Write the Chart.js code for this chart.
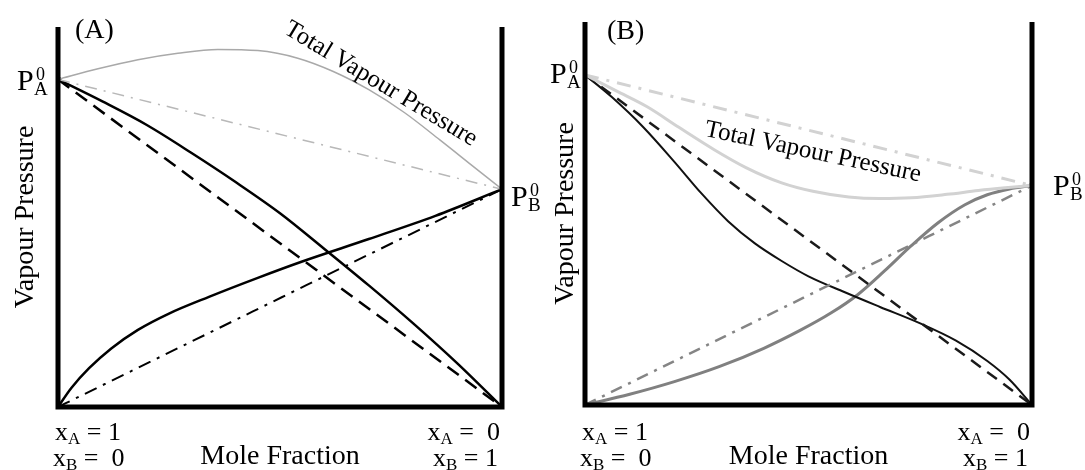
<!DOCTYPE html>
<html lang="en">
<head>
<meta charset="UTF-8" />
<title>Vapour Pressure vs Mole Fraction</title>
<script src="https://cdn.jsdelivr.net/npm/chart.js"></script>
<style>
  body { margin: 0; background: #fff; }
  .panel { position: absolute; top: 0; }
</style>
</head>
<body>
<canvas id="chartA" class="panel" style="left:0" width="540" height="470"></canvas>
<canvas id="chartB" class="panel" style="left:540px" width="545" height="470"></canvas>
<script>
// mole fraction of B along the x axis (0 = pure A, 1 = pure B), pressures in % of axis height
const idealX = [0, 1];
const idealTotal = [86.2, 57.3];
const idealPA = [86.2, 0];
const idealPB = [0, 57.3];

// (A) positive deviation
const totalAX = [0, 0.09, 0.18, 0.27, 0.36, 0.45, 0.54, 0.62, 0.70, 0.78, 0.86, 0.93, 1];
const totalAY = [86.2, 89.0, 91.4, 93.1, 94.1, 93.8, 91.8, 88.3, 83.5, 77.5, 70.3, 63.8, 57.3];
const pARealAX = [0, 0.1, 0.2, 0.3, 0.4, 0.5, 0.6, 0.7, 0.8, 0.9, 1];
const pARealAY = [86.2, 80.4, 74.2, 66.9, 59.2, 51.0, 41.6, 32.0, 22.0, 11.4, 0];
const pBRealAX = [0, 0.03, 0.07, 0.12, 0.18, 0.25, 0.34, 0.45, 0.55, 0.7, 0.85, 1];
const pBRealAY = [0, 5.0, 10.2, 15.4, 20.3, 24.6, 29.0, 34.0, 38.3, 44.2, 50.3, 57.3];

// (B) negative deviation
const totalBX = [0, 0.07, 0.14, 0.21, 0.29, 0.36, 0.44, 0.51, 0.59, 0.66, 0.73, 0.81, 0.88, 0.94, 1];
const totalBY = [86.2, 82.0, 77.8, 72.5, 66.6, 62.0, 58.0, 55.8, 54.3, 53.9, 54.1, 55.0, 56.0, 56.7, 57.3];
const pARealBX = [0, 0.06, 0.13, 0.2, 0.26, 0.32, 0.38, 0.44, 0.5, 0.58, 0.66, 0.75, 0.83, 0.9, 0.95, 1];
const pARealBY = [86.2, 80.4, 72.6, 63.5, 55.3, 48.0, 42.2, 37.6, 33.6, 29.5, 25.6, 21.3, 16.8, 11.5, 6.6, 0];
const pBRealBX = [0, 0.1, 0.2, 0.3, 0.4, 0.48, 0.55, 0.61, 0.67, 0.73, 0.79, 0.85, 0.9, 0.95, 1];
const pBRealBY = [0, 2.8, 6.1, 10.0, 14.8, 19.4, 24.0, 28.8, 35.0, 41.6, 47.6, 52.3, 54.9, 56.4, 57.3];

const SERIF = '"Liberation Serif", "Times New Roman", serif';

function pts(xs, ys) {
    return xs.map((x, i) => ({ x: x, y: ys[i] }));
}

function line(xs, ys, color, width, dash, dot) {
    return {
        data: pts(xs, ys),
        showLine: true,
        borderColor: color,
        borderWidth: width,
        borderDash: dash || [],
        // small blobs where the curves meet the frame
        pointRadius: ctx => (dot && (ctx.dataIndex === 0 || ctx.dataIndex === xs.length - 1)) ? dot : 0,
        pointBackgroundColor: color,
        pointBorderWidth: 0,
        cubicInterpolationMode: 'monotone',
        fill: false
    };
}

// draws a run of text pieces [text, size, dy] starting at x
function textRun(ctx, x, y, parts, align) {
    let w = 0;
    parts.forEach(p => { ctx.font = p[1] + 'px ' + SERIF; w += ctx.measureText(p[0]).width; });
    if (align === 'right') x -= w;
    if (align === 'center') x -= w / 2;
    ctx.textAlign = 'left';
    ctx.textBaseline = 'alphabetic';
    parts.forEach(p => {
        ctx.font = p[1] + 'px ' + SERIF;
        ctx.fillText(p[0], x, y + (p[2] || 0));
        x += ctx.measureText(p[0]).width;
    });
}

function pressureLabel(ctx, x, y, sub, o) {
    ctx.font = '30px ' + SERIF;
    ctx.fillText('P', x, y);
    ctx.font = '18px ' + SERIF;
    ctx.fillText('0', x + o.supDx, y + o.supDy);
    ctx.font = '19px ' + SERIF;
    ctx.fillText(sub, x + o.subDx, y + o.subDy);
}

const panelPlugin = {
    id: 'panel',
    afterDraw(chart, args, o) {
        const ctx = chart.ctx, xs = chart.scales.x, ys = chart.scales.y;
        const x0 = xs.getPixelForValue(0), x1 = xs.getPixelForValue(1);
        const y0 = ys.getPixelForValue(0), yTop = ys.getPixelForValue(100);
        ctx.save();
        // frame: two verticals and the base
        ctx.strokeStyle = '#000';
        ctx.lineWidth = 5;
        ctx.beginPath();
        ctx.moveTo(x0, yTop); ctx.lineTo(x0, y0 + 2.5);
        ctx.moveTo(x1, yTop); ctx.lineTo(x1, y0 + 2.5);
        ctx.moveTo(x0 - 2.5, y0); ctx.lineTo(x1 + 2.5, y0);
        ctx.stroke();

        ctx.fillStyle = '#000';
        ctx.textAlign = 'left';
        ctx.textBaseline = 'alphabetic';
        ctx.font = '28px ' + SERIF;
        ctx.fillText(o.tag, o.tagX, o.tagY);

        const off = { supDx: o.supDx, supDy: -10, subDx: o.subDx, subDy: 5 };
        pressureLabel(ctx, o.pAx, o.pAy, 'A', off);
        pressureLabel(ctx, o.pBx, o.pBy, 'B', off);

        // axis titles
        ctx.save();
        ctx.translate(o.vpX, (y0 + yTop) / 2);
        ctx.rotate(-Math.PI / 2);
        ctx.font = '28px ' + SERIF;
        ctx.textAlign = 'center';
        ctx.textBaseline = 'middle';
        ctx.fillText('Vapour Pressure', 0, 0);
        ctx.restore();

        textRun(ctx, (x0 + x1) / 2, 464, [['Mole Fraction', 28]], 'center');

        textRun(ctx, x0 + o.leftDx, 440, [['x', 26], ['A', 17, 4], [' = 1', 26]], 'left');
        textRun(ctx, x0 + o.leftDx - 2, 466, [['x', 26], ['B', 17, 4], [' =  0', 26]], 'left');
        textRun(ctx, x1 - 2, 440, [['x', 26], ['A', 17, 4], [' =  0', 26]], 'right');
        textRun(ctx, x1 - 4, 466, [['x', 26], ['B', 17, 4], [' = 1', 26]], 'right');

        // curve label
        ctx.save();
        ctx.translate(xs.getPixelForValue(o.totX), ys.getPixelForValue(o.totY));
        ctx.rotate(o.totAngle * Math.PI / 180);
        ctx.font = '25px ' + SERIF;
        ctx.textAlign = 'center';
        ctx.textBaseline = 'middle';
        ctx.fillText('Total Vapour Pressure', 0, 0);
        ctx.restore();

        ctx.restore();
    }
};

function makeChart(id, datasets, padding, labels) {
    return new Chart(document.getElementById(id), {
        type: 'scatter',
        data: { datasets: datasets },
        options: {
            responsive: false,
            animation: false,
            devicePixelRatio: 1,
            layout: { padding: padding },
            scales: {
                x: { type: 'linear', min: 0, max: 1, display: false },
                y: { type: 'linear', min: 0, max: 100, display: false }
            },
            plugins: {
                legend: { display: false },
                tooltip: { enabled: false },
                panel: labels
            }
        },
        plugins: [panelPlugin]
    });
}

makeChart('chartA', [
    line(totalAX, totalAY, '#a9a9a9', 1.5),
    line(idealX, idealTotal, '#b8b8b8', 1.5, [12, 7, 2, 7]),
    line(idealX, idealPA, '#000', 2.5, [14, 8]),
    line(idealX, idealPB, '#000', 2, [13, 7, 3, 7]),
    line(pARealAX, pARealAY, '#000', 2.5, null, 3),
    line(pBRealAX, pBRealAY, '#000', 2.5, null, 3)
], { left: 58, right: 38, top: 27, bottom: 63 }, {
    tag: '(A)', tagX: 75, tagY: 38,
    pAx: 17, pAy: 90, pBx: 511, pBy: 206, supDx: 19, subDx: 17,
    vpX: 26, leftDx: -3,
    totX: 0.727, totY: 85, totAngle: 31
});

makeChart('chartB', [
    line(totalBX, totalBY, '#d2d2d2', 3),
    line(idealX, idealTotal, '#d2d2d2', 3, [14, 8, 3, 8]),
    line(idealX, idealPA, '#1a1a1a', 2.5, [12, 8]),
    line(idealX, idealPB, '#858585', 2.5, [12, 7, 3, 7]),
    line(pARealBX, pARealBY, '#111', 2),
    line(pBRealBX, pBRealBY, '#808080', 3, null, 3)
], { left: 45, right: 53, top: 22, bottom: 65 }, {
    tag: '(B)', tagX: 67, tagY: 39,
    pAx: 10, pAy: 83, pBx: 513, pBy: 195, supDx: 19, subDx: 17,
    vpX: 26, leftDx: -3,
    totX: 0.51, totY: 66, totAngle: 12
});
</script>
</body>
</html>
